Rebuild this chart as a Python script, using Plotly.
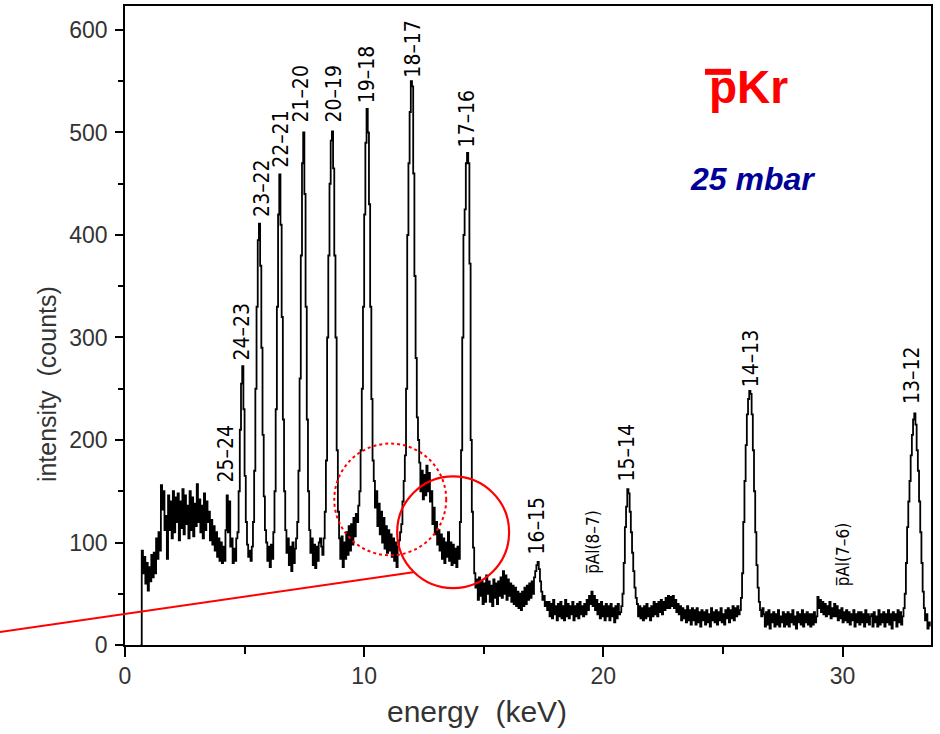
import numpy as np
import plotly.graph_objects as go

# Channel calibration of the spectrum
E_START = 0.70   # keV, first channel
E_STEP = 0.05    # keV per channel

# Counts per channel, ten channels (0.5 keV) per row
counts = [
    92, 70, 86, 60, 80, 53, 76, 62, 88, 66,            # 0.70
    90, 70, 104, 84, 110, 92, 156, 132, 150, 112,      # 1.20
    126, 84, 146, 112, 140, 104, 150, 110, 144, 120,   # 1.70
    148, 102, 140, 114, 152, 108, 146, 118, 136, 104,  # 2.20
    150, 112, 144, 106, 138, 116, 157, 120, 142, 110,  # 2.70
    136, 104, 148, 112, 140, 120, 130, 102, 122, 98,   # 3.20
    116, 92, 110, 86, 104, 82, 100, 80, 96, 82,        # 3.70
    112, 146, 110, 140, 96, 104, 80, 94, 82, 104,      # 4.20
    110, 150, 210, 255, 272, 230, 165, 120, 98, 86,    # 4.70
    92, 82, 96, 120, 170, 250, 330, 395, 411, 370,     # 5.20
    290, 205, 145, 112, 100, 82, 96, 76, 98, 84,       # 5.70
    110, 150, 230, 330, 420, 459, 410, 320, 220, 150,  # 6.20
    112, 90, 104, 78, 96, 72, 100, 80, 94, 104,        # 6.70
    120, 170, 260, 380, 470, 500, 440, 330, 220, 150,  # 7.20
    112, 90, 104, 78, 98, 75, 96, 82, 100, 104,        # 7.70
    96, 88, 104, 130, 180, 300, 380, 450, 492, 501,    # 8.20
    465, 380, 300, 190, 130, 104, 84, 106, 76, 100,    # 8.70
    84, 110, 88, 116, 92, 118, 98, 124, 106, 128,      # 9.20
    120, 136, 150, 190, 250, 330, 420, 490, 523, 500,  # 9.70
    430, 330, 240, 180, 160, 134, 150, 116, 138, 108,  # 10.20
    130, 100, 124, 94, 116, 90, 112, 92, 108, 86,      # 10.70
    104, 82, 100, 76, 96, 102, 110, 118, 140, 160,     # 11.20
    185, 250, 400, 470, 520, 550, 545, 460, 360, 280,  # 11.70
    222, 200, 178, 150, 170, 142, 166, 146, 175, 150,  # 12.20
    168, 140, 150, 118, 134, 108, 120, 98, 112, 92,    # 12.70
    108, 84, 104, 80, 100, 86, 110, 82, 100, 78,       # 13.20
    98, 80, 94, 76, 96, 84, 120, 190, 300, 400,        # 13.70
    425, 470, 480, 470, 372, 200, 130, 95, 70, 56,     # 14.20
    64, 44, 66, 48, 62, 40, 60, 42, 68, 50,            # 14.70
    62, 42, 58, 38, 64, 46, 60, 40, 62, 48,            # 15.20
    66, 46, 72, 50, 68, 44, 64, 48, 60, 42,            # 15.70
    58, 40, 56, 38, 52, 36, 50, 34, 52, 38,            # 16.20
    56, 40, 58, 44, 60, 46, 62, 50, 66, 72,            # 16.70
    78, 81, 74, 62, 52, 44, 48, 38, 42, 34,            # 17.20
    42, 28, 40, 26, 44, 30, 38, 24, 40, 28,            # 17.70
    42, 26, 38, 24, 44, 28, 40, 26, 38, 30,            # 18.20
    42, 24, 38, 28, 40, 26, 42, 30, 38, 28,            # 18.70
    40, 30, 44, 34, 48, 40, 52, 38, 48, 34,            # 19.20
    44, 30, 40, 26, 42, 28, 38, 24, 40, 28,            # 19.70
    38, 24, 40, 28, 36, 22, 38, 26, 40, 30,            # 20.20
    32, 38, 50, 80, 115, 135, 152, 148, 130, 110,      # 20.70
    90, 72, 56, 46, 40, 28, 38, 26, 36, 24,            # 21.20
    38, 26, 40, 28, 36, 24, 38, 28, 42, 30,            # 21.70
    40, 28, 42, 32, 44, 30, 42, 34, 46, 36,            # 22.20
    48, 36, 47, 38, 48, 36, 44, 32, 40, 30,            # 22.70
    38, 24, 36, 26, 34, 22, 38, 24, 34, 20,            # 23.20
    36, 24, 34, 20, 36, 22, 32, 18, 34, 24,            # 23.70
    32, 20, 34, 22, 30, 18, 36, 24, 32, 22,            # 24.20
    34, 20, 32, 24, 36, 22, 30, 20, 34, 26,            # 24.70
    36, 22, 34, 26, 38, 24, 36, 28, 38, 30,            # 25.20
    34, 46, 70, 120, 160, 195, 225, 240, 248, 245,     # 25.70
    225, 190, 150, 110, 78, 56, 42, 34, 28, 36,        # 26.20
    30, 18, 32, 20, 34, 16, 30, 22, 32, 18,            # 26.70
    30, 20, 34, 18, 28, 22, 32, 18, 30, 20,            # 27.20
    32, 18, 30, 22, 34, 20, 28, 16, 32, 22,            # 27.70
    30, 20, 34, 18, 30, 22, 32, 20, 30, 18,            # 28.20
    30, 20, 32, 22, 28, 47, 36, 44, 32, 42,            # 28.70
    30, 40, 28, 38, 30, 42, 26, 36, 28, 40,            # 29.20
    28, 38, 24, 34, 26, 36, 22, 32, 24, 34,            # 29.70
    22, 32, 20, 30, 24, 34, 18, 30, 22, 32,            # 30.20
    20, 32, 22, 30, 18, 34, 22, 30, 20, 28,            # 30.70
    30, 18, 32, 22, 28, 18, 34, 20, 30, 22,            # 31.20
    32, 18, 30, 22, 34, 20, 30, 16, 32, 24,            # 31.70
    30, 18, 34, 22, 32, 20, 28, 36, 50, 80,            # 32.20
    115, 140, 160, 185, 205, 220, 226, 215, 190, 170,  # 32.70
    140, 110, 80, 52, 36, 24, 30, 16, 22, 18,          # 33.20
]

# Transition labels (n -> n-1) and where they sit (keV, counts)
line_labels = ["25–24", "24–23", "23–22", "22–21", "21–20", "20–19", "19–18",
               "18–17", "17–16", "16–15", "15–14", "14–13", "13–12"]
label_energy = [4.23, 4.90, 5.73, 6.49, 7.32, 8.70, 10.13,
                12.05, 14.31, 17.24, 21.00, 26.19, 32.93]
label_counts = [187, 306, 446, 494, 538, 538, 557,
                582, 514, 117, 188, 280, 263]

# Antiprotonic aluminium contaminant lines
al_labels = ["p\u0305Al(8–7)", "p\u0305Al(7–6)"]
al_energy = [19.54, 30.00]
al_counts = [100, 88]

X_MAX = 33.7
Y_MAX = 623.4

# Highlighted region (circles) and pointer line, in keV / counts
solid_circle = dict(e=13.72, c=110.0, re=2.34, rc=54.5)
dotted_circle = dict(e=11.09, c=142.0, re=2.34, rc=54.5)
pointer = dict(e0=-5.23, c0=12.6, e1=12.05, c1=71.0)

energy = E_START + E_STEP * np.arange(len(counts))
x = np.concatenate([[E_START - E_STEP], energy])
y = np.concatenate([[0], counts])

fig = go.Figure()
fig.add_trace(go.Scatter(
    x=x, y=y, mode="lines", line=dict(color="black", width=1.8, shape="hv"),
    hoverinfo="skip", showlegend=False,
))

label_font = dict(family="Liberation Sans Narrow, DejaVu Sans Condensed, Arial Narrow, sans-serif",
                  size=21, color="black")
for txt, e, c in zip(line_labels, label_energy, label_counts):
    fig.add_annotation(x=e, y=c, text=txt, textangle=-90, showarrow=False,
                       xanchor="center", yanchor="middle", font=label_font)
for txt, e, c in zip(al_labels, al_energy, al_counts):
    fig.add_annotation(x=e, y=c, text=txt, textangle=-90, showarrow=False,
                       xanchor="center", yanchor="middle",
                       font=dict(label_font, size=17))

# Sample and pressure
fig.add_annotation(xref="paper", yref="paper", x=0.7735, y=0.8725, text="<b>pKr</b>",
                   showarrow=False, xanchor="center", yanchor="middle",
                   font=dict(family="Liberation Sans, Arial, sans-serif", size=46, color="#ff0000"))
fig.add_shape(type="line", xref="paper", yref="paper", x0=0.7196, x1=0.7519, y0=0.897, y1=0.897,
              line=dict(color="#ff0000", width=6))
fig.add_annotation(xref="paper", yref="paper", x=0.779, y=0.729, text="<b><i>25 mbar</i></b>",
                   showarrow=False, xanchor="center", yanchor="middle",
                   font=dict(family="Liberation Sans, Arial, sans-serif", size=32, color="#000099"))

# Axis titles
title_font = dict(family="Liberation Sans, Arial, sans-serif", size=25, color="#333")
fig.add_annotation(xref="paper", yref="paper", x=-0.097, y=0.408, text="intensity  (counts)",
                   textangle=-90, showarrow=False, xanchor="center", yanchor="middle",
                   font=title_font)
fig.add_annotation(xref="paper", yref="paper", x=0.437, y=-0.104, text="energy  (keV)",
                   showarrow=False, xanchor="center", yanchor="middle",
                   font=dict(title_font, size=30))

# Marked region
for circ, dash in ((solid_circle, "solid"), (dotted_circle, "dot")):
    fig.add_shape(type="circle", xref="x", yref="y",
                  x0=circ["e"] - circ["re"], x1=circ["e"] + circ["re"],
                  y0=circ["c"] - circ["rc"], y1=circ["c"] + circ["rc"],
                  line=dict(color="#ff0000", width=2.2 if dash == "solid" else 2, dash=dash))
fig.add_shape(type="line", xref="paper", yref="paper",
              x0=pointer["e0"] / X_MAX, y0=pointer["c0"] / Y_MAX,
              x1=pointer["e1"] / X_MAX, y1=pointer["c1"] / Y_MAX,
              line=dict(color="#ff0000", width=2))

tick_font = dict(family="Liberation Sans, Arial, sans-serif", size=23, color="#333")
fig.update_xaxes(range=[0, X_MAX], showgrid=False, zeroline=False,
                 showline=True, linecolor="black", linewidth=1.5, mirror=True,
                 ticks="outside", ticklen=10, tickwidth=1.5, tickcolor="black",
                 dtick=10, tick0=0, tickfont=tick_font,
                 minor=dict(dtick=5, ticks="outside", ticklen=7, tickwidth=1.5, tickcolor="black"))
fig.update_yaxes(range=[0, Y_MAX], showgrid=False, zeroline=False,
                 showline=True, linecolor="black", linewidth=1.5, mirror=True,
                 ticks="outside", ticklen=8, tickwidth=1.5, tickcolor="black",
                 dtick=100, tick0=0, tickfont=tick_font, ticklabelstandoff=3,
                 minor=dict(dtick=50, ticks="outside", ticklen=5, tickwidth=1.5, tickcolor="black"))

fig.update_layout(
    width=940, height=734, autosize=False,
    margin=dict(l=125, r=9, t=4, b=89),
    paper_bgcolor="white", plot_bgcolor="white",
)

fig.write_html("out.html")
